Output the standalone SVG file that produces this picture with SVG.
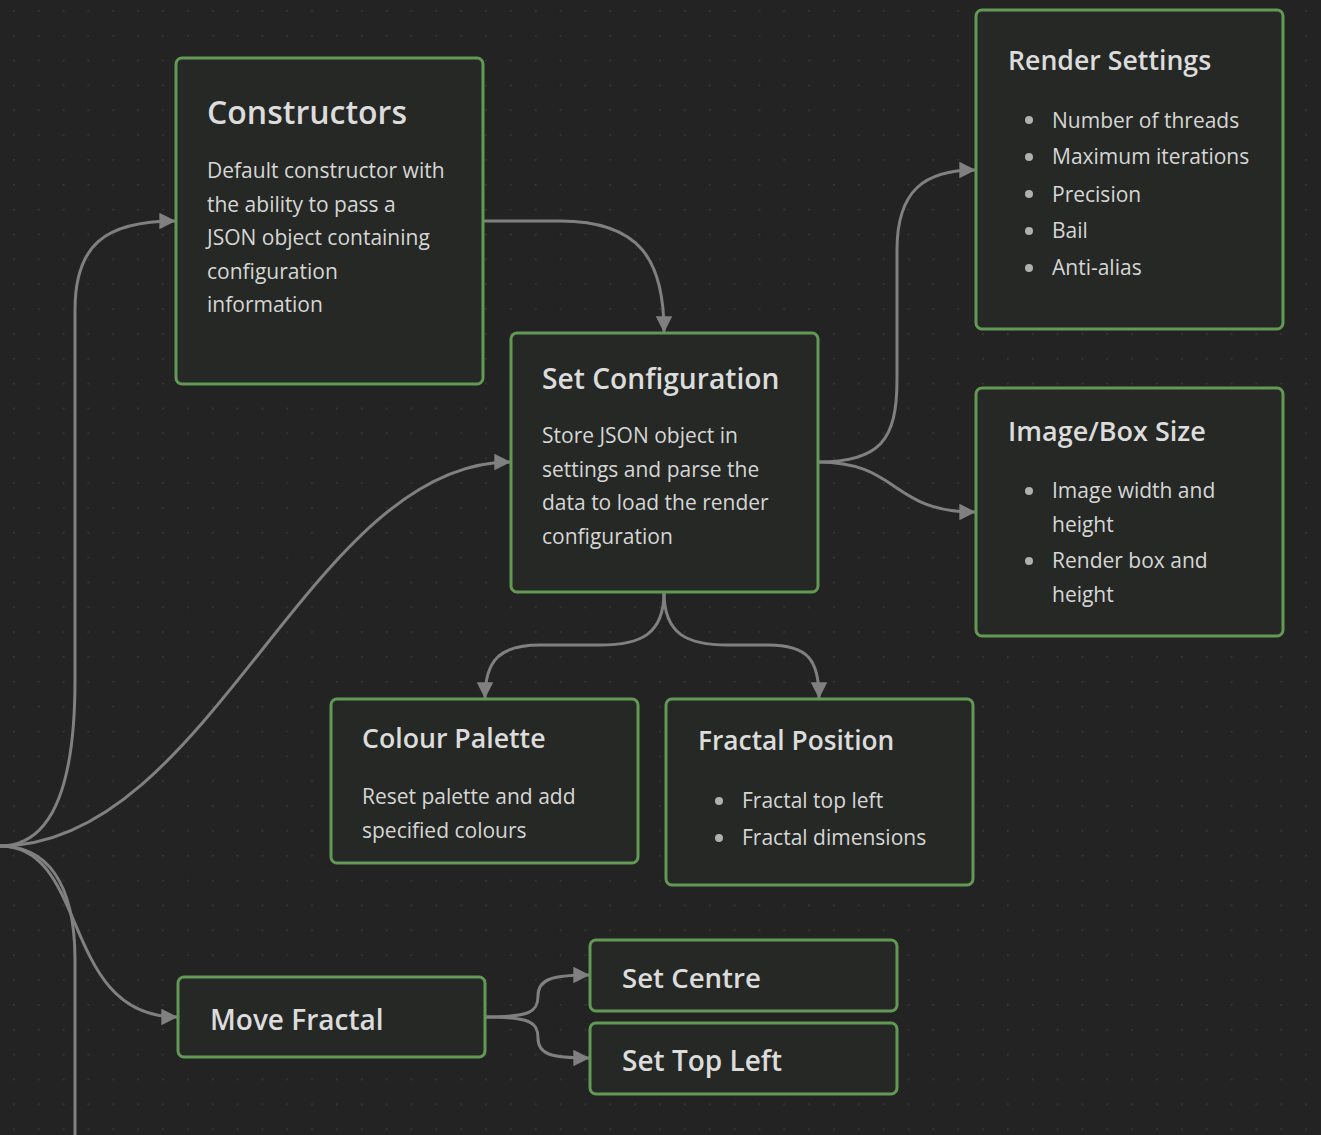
<svg xmlns="http://www.w3.org/2000/svg" width="1321" height="1135" viewBox="0 0 1321 1135">
<defs>
<pattern id="dots" x="13" y="10" width="24.85" height="24.85" patternUnits="userSpaceOnUse">
<circle cx="0.8" cy="0.8" r="1" fill="#383838"/>
</pattern>
<marker id="arr" viewBox="0 0 10 10" refX="9.5" refY="5" markerWidth="5.5" markerHeight="5.5" orient="auto" markerUnits="strokeWidth">
<path d="M0,0 L10,5 L0,10 Z" fill="#808080"/>
</marker>
<style>
.node rect{fill:#252824;stroke:#629a55;stroke-width:3}
.t{font-family:"Open Sans","Noto Sans",sans-serif;font-weight:600;fill:#dcdcdc}
.b{font-family:"Open Sans","Noto Sans",sans-serif;font-size:21px;fill:#d6d6d6}
.dot{fill:#b0b0b0}
.c path{fill:none;stroke:#808080;stroke-width:3}
</style>
</defs>
<rect width="1321" height="1135" fill="#232323"/>
<rect width="1321" height="1135" fill="url(#dots)"/>

<g class="c" id="connectors">
<path d="M0,846 C45,846 75,800 75,680 L75,310 C75,245 105,221 175,221" marker-end="url(#arr)"/>
<path d="M0,846 C210,846 310,462 510,462" marker-end="url(#arr)"/>
<path d="M0,846 C90,846 60,1017 177,1017" marker-end="url(#arr)"/>
<path d="M0,846 C45,846 75,880 75,960 L75,1135"/>
<path d="M483,221 L560,221 C640,221 664,260 664,332" marker-end="url(#arr)"/>
<path d="M818,462 C880,462 897,440 897,380 L897,250 C897,190 925,170 975,170" marker-end="url(#arr)"/>
<path d="M818,462 C900,462 890,512 975,512" marker-end="url(#arr)"/>
<path d="M664,592 C664,635 640,645 600,645 L540,645 C500,645 485,660 485,698" marker-end="url(#arr)"/>
<path d="M664,592 C664,635 688,645 728,645 L768,645 C808,645 819,660 819,698" marker-end="url(#arr)"/>
<path d="M485,1017 C530,1017 538,1012 538,996 C538,980 550,975 589,975" marker-end="url(#arr)"/>
<path d="M485,1017 C530,1017 538,1022 538,1038 C538,1054 550,1058 589,1058" marker-end="url(#arr)"/>
</g>

<g class="node" id="constructors">
<rect x="176" y="58" width="307" height="326" rx="6"/>
<text class="t" x="207" y="124" font-size="32">Constructors</text>
<text class="b" x="207" y="178">Default constructor with</text>
<text class="b" x="207" y="212">the ability to pass a</text>
<text class="b" x="207" y="245">JSON object containing</text>
<text class="b" x="207" y="279">configuration</text>
<text class="b" x="207" y="312">information</text>
</g>

<g class="node" id="set-configuration">
<rect x="511" y="333" width="307" height="259" rx="6"/>
<text class="t" x="542" y="389" font-size="28.2">Set Configuration</text>
<text class="b" x="542" y="443">Store JSON object in</text>
<text class="b" x="542" y="477">settings and parse the</text>
<text class="b" x="542" y="510">data to load the render</text>
<text class="b" x="542" y="544">configuration</text>
</g>

<g class="node" id="render-settings">
<rect x="976" y="10" width="307" height="319" rx="6"/>
<text class="t" x="1008" y="70" font-size="26.7">Render Settings</text>
<circle class="dot" cx="1029" cy="120" r="4"/>
<text class="b" x="1052" y="128">Number of threads</text>
<circle class="dot" cx="1029" cy="157" r="4"/>
<text class="b" x="1052" y="164">Maximum iterations</text>
<circle class="dot" cx="1029" cy="194" r="4"/>
<text class="b" x="1052" y="202">Precision</text>
<circle class="dot" cx="1029" cy="231" r="4"/>
<text class="b" x="1052" y="238">Bail</text>
<circle class="dot" cx="1029" cy="268" r="4"/>
<text class="b" x="1052" y="275">Anti-alias</text>
</g>

<g class="node" id="image-box-size">
<rect x="976" y="388" width="307" height="248" rx="6"/>
<text class="t" x="1008" y="441" font-size="27">Image/Box Size</text>
<circle class="dot" cx="1029" cy="491" r="4"/>
<text class="b" x="1052" y="498">Image width and</text>
<text class="b" x="1052" y="532">height</text>
<circle class="dot" cx="1029" cy="561" r="4"/>
<text class="b" x="1052" y="568">Render box and</text>
<text class="b" x="1052" y="602">height</text>
</g>

<g class="node" id="colour-palette">
<rect x="331" y="699" width="307" height="164" rx="6"/>
<text class="t" x="362" y="748" font-size="26.7">Colour Palette</text>
<text class="b" x="362" y="804">Reset palette and add</text>
<text class="b" x="362" y="838">specified colours</text>
</g>

<g class="node" id="fractal-position">
<rect x="666" y="699" width="307" height="186" rx="6"/>
<text class="t" x="698" y="750" font-size="26.3">Fractal Position</text>
<circle class="dot" cx="719" cy="801" r="4"/>
<text class="b" x="742" y="808">Fractal top left</text>
<circle class="dot" cx="719" cy="838" r="4"/>
<text class="b" x="742" y="845">Fractal dimensions</text>
</g>

<g class="node" id="move-fractal">
<rect x="178" y="977" width="307" height="80" rx="6"/>
<text class="t" x="210" y="1030" font-size="28">Move Fractal</text>
</g>

<g class="node" id="set-centre">
<rect x="590" y="940" width="307" height="71" rx="6"/>
<text class="t" x="622" y="988" font-size="27.6">Set Centre</text>
</g>

<g class="node" id="set-top-left">
<rect x="590" y="1023" width="307" height="71" rx="6"/>
<text class="t" x="622" y="1071" font-size="28">Set Top Left</text>
</g>
</svg>
